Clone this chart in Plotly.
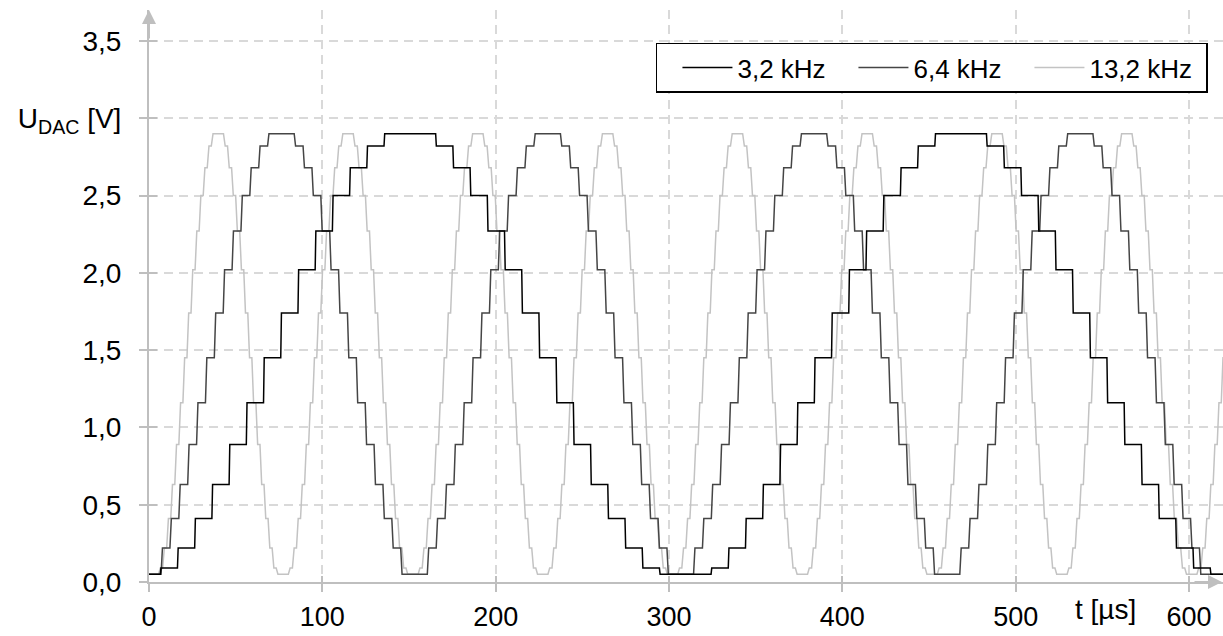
import plotly.graph_objects as go

# ---------------- data ----------------
series_names = ["3,2 kHz", "6,4 kHz", "13,2 kHz"]

# DAC output level [V] of each sample of one period, starting with the first sample of the flat bottom
levels_3k2 = [0.05, 0.05, 0.05, 0.09, 0.22, 0.41, 0.63, 0.89, 1.16, 1.45, 1.74, 2.02, 2.27, 2.50, 2.68, 2.82,
              2.90, 2.90, 2.90, 2.82, 2.68, 2.50, 2.27, 2.02, 1.74, 1.45, 1.16, 0.89, 0.63, 0.41, 0.22, 0.09]
levels_6k4 = [0.05, 0.05, 0.05, 0.22, 0.41, 0.63, 0.89, 1.16, 1.45, 1.74, 2.02, 2.27, 2.50, 2.68, 2.82,
              2.90, 2.90, 2.90, 2.82, 2.68, 2.50, 2.27, 2.02, 1.74, 1.45, 1.16, 0.89, 0.63, 0.41, 0.22]
levels_13k2 = [0.05, 0.05, 0.05, 0.09, 0.22, 0.41, 0.63, 0.89, 1.16, 1.45, 1.74, 2.02, 2.27, 2.50, 2.68, 2.82,
               2.90, 2.90, 2.90, 2.82, 2.68, 2.50, 2.27, 2.02, 1.74, 1.45, 1.16, 0.89, 0.63, 0.41, 0.22, 0.09]

sample_period_us = [9.93, 5.12, 2.34]      # time between DAC updates
first_sample_us = [-23.3, -8.4, -1.5]      # start of the first listed sample
t_end_us = 625

x_ticks = [0, 100, 200, 300, 400, 500, 600]
x_tick_text = ["0", "100", "200", "300", "400", "500", "600"]
y_ticks = [0, 0.5, 1.0, 1.5, 2.0, 2.5, 3.0, 3.5]
y_tick_text = ["0,0", "0,5", "1,0", "1,5", "2,0", "2,5", "U<sub>DAC</sub> [V]", "3,5"]

# ---------------- styles ----------------
colors = ["#000000", "#454545", "#c3c3c3"]
edge_us = [0.4, 0.8, 1.0]
FONT = "Liberation Sans, Arial, sans-serif"
AXIS = "#bfbfbf"
GRID = "#d9d9d9"
TICK_SIZE = 28
X_TICK_SIZE = 27
LEGEND_SIZE = 26


def staircase(levels, dt, t0, edge, t_end):
    xs, ys = [], []
    prev = levels[-1]
    t = t0
    i = 0
    n = len(levels)
    while t < t_end:
        lv = levels[i % n]
        xs += [t, t + edge]
        ys += [prev, lv]
        prev = lv
        t += dt
        i += 1
    xs.append(t)
    ys.append(prev)
    return xs, ys


fig = go.Figure()
all_levels = [levels_3k2, levels_6k4, levels_13k2]
for k in [2, 1, 0]:
    xs, ys = staircase(all_levels[k], sample_period_us[k], first_sample_us[k], edge_us[k], t_end_us)
    fig.add_trace(go.Scatter(x=xs, y=ys, mode="lines", name=series_names[k],
                             line=dict(color=colors[k], width=1.5), legendrank=k + 1))

# overlay axes used only to draw the inner half of the crossing tick marks
fig.add_trace(go.Scatter(x=[], y=[], xaxis="x2", yaxis="y2", showlegend=False, hoverinfo="skip"))

x_range = [0, 619.6]
y_range = [0, 3.70]

fig.update_layout(
    width=1223, height=636,
    margin=dict(l=149, r=0, t=10, b=54, autoexpand=False),
    paper_bgcolor="white", plot_bgcolor="white",
    font=dict(family=FONT, size=TICK_SIZE, color="#000000"),
    showlegend=True,
    legend=dict(orientation="h", x=0.472, y=0.943, xanchor="left", yanchor="top",
                bordercolor="#000000", borderwidth=1.5, bgcolor="white",
                font=dict(family=FONT, size=LEGEND_SIZE, color="#000000"),
                title=dict(text="&nbsp;&nbsp;&nbsp;", side="left",
                           font=dict(family=FONT, size=12)),
                traceorder="normal", itemwidth=50, entrywidth=111, entrywidthmode="pixels"),
    xaxis=dict(range=x_range, tickvals=x_ticks, ticktext=x_tick_text,
               showline=True, linecolor=AXIS, linewidth=2,
               ticks="outside", ticklen=8, tickwidth=2, tickcolor=AXIS,
               showgrid=True, gridcolor=GRID, gridwidth=1.5, griddash="9px,6px",
               zeroline=False, ticklabelstandoff=2, automargin=False,
               tickfont=dict(family=FONT, size=X_TICK_SIZE, color="#000000")),
    yaxis=dict(range=y_range, tickvals=y_ticks, ticktext=y_tick_text,
               showline=True, linecolor=AXIS, linewidth=2,
               ticks="outside", ticklen=8, tickwidth=2, tickcolor=AXIS,
               showgrid=True, gridcolor=GRID, gridwidth=1.5, griddash="9px,6px",
               zeroline=False, ticklabelstandoff=12, automargin=False,
               tickfont=dict(family=FONT, size=TICK_SIZE, color="#000000")),
    xaxis2=dict(range=x_range, overlaying="x", tickvals=x_ticks, showticklabels=False,
                ticks="inside", ticklen=6, tickwidth=2, tickcolor=AXIS,
                showgrid=False, showline=False, zeroline=False, automargin=False),
    yaxis2=dict(range=y_range, overlaying="y", tickvals=y_ticks, showticklabels=False,
                ticks="inside", ticklen=8, tickwidth=2, tickcolor=AXIS,
                showgrid=False, showline=False, zeroline=False, automargin=False),
)

# axis arrow heads and the time-axis title
fig.add_annotation(x=1, y=0, xref="paper", yref="paper", ax=-30, ay=0, text="",
                   showarrow=True, arrowhead=2, arrowsize=1.4, arrowwidth=2,
                   arrowcolor=AXIS, standoff=0)
fig.add_annotation(x=0, y=1, xref="paper", yref="paper", ax=0, ay=30, text="",
                   showarrow=True, arrowhead=2, arrowsize=1.4, arrowwidth=2,
                   arrowcolor=AXIS, standoff=0)
fig.add_annotation(x=552, y=0, xref="x", yref="paper", text="t [µs]", showarrow=False,
                   xanchor="center", yanchor="top", yshift=-10,
                   font=dict(family=FONT, size=TICK_SIZE, color="#000000"))

fig.write_html("out.html", config={"displayModeBar": False},
               post_script="document.body.style.margin='0';")
